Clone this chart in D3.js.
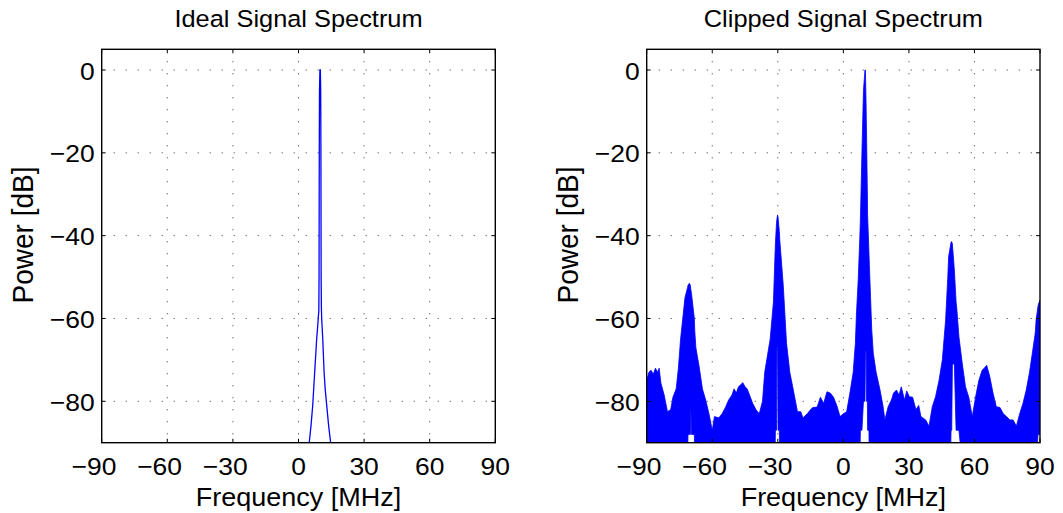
<!DOCTYPE html>
<html><head><meta charset="utf-8">
<script src="https://cdn.jsdelivr.net/npm/d3@7"></script>
<style>
body{margin:0;background:#fff}
svg{display:block}
text{font-family:"Liberation Sans",Arial,Helvetica,sans-serif;fill:#000}
</style>
</head><body>
<svg id="c" width="1063" height="513"></svg>
<script>
// ---------------- data ----------------
const xTicks = [-90, -60, -30, 0, 30, 60, 90];
const yTicks = [-80, -60, -40, -20, 0];
const titles = ["Ideal Signal Spectrum", "Clipped Signal Spectrum"];
const xLabel = "Frequency [MHz]";
const yLabel = "Power [dB]";

// Ideal spectrum (single narrow line at 10 MHz)
const idealFreq  = [4.9, 5.7, 6.5, 7.4, 8.3, 8.9, 9.3, 9.4, 9.45, 9.5, 9.6, 9.8, 10.0, 10.15, 10.25, 10.3, 10.35, 10.45, 10.6, 11.1, 11.7, 12.2, 12.9, 13.8, 14.7];
const idealPower = [-90, -86, -81, -73, -65, -61, -58, -50, -35, -20, -5, 0, 0, -5, -20, -35, -50, -57, -60, -65, -73, -77, -81, -86, -90];

// Clipped spectrum: upper and lower envelope of the dense trace
const clipFreq = [-90, -89, -88, -87, -86, -85, -84.3, -83.5, -82, -80.5, -79, -78, -76.5, -75.5, -74.5, -73.5, -72.5, -71.3, -71.1, -70.5, -70, -69.8, -69.5, -68.2, -68.0, -67.5, -66, -64.5, -63, -61.5, -60, -59, -57, -55.5, -54, -52.5, -51, -50, -49, -48, -47, -46, -45, -44, -41.5, -40, -38.5, -37, -36, -33.5, -32, -31.3, -31.1, -30.6, -30.4, -30.1, -29.9, -29.3, -29.1, -27.5, -26, -24.5, -23, -21, -19.5, -18.5, -16.5, -15, -14, -12, -10.5, -9, -7.5, -6, -4.5, -3, -1.5, 0, 1.5, 3, 4.5, 5.5, 6, 6.8, 7.5, 7.8, 8.5, 9.2, 9.9, 10.1, 10.4, 10.6, 11.0, 11.1, 11.7, 11.9, 13, 13.7, 15, 16.8, 18.2, 19, 20.5, 22, 23, 24.3, 25.5, 26.5, 28, 29, 30.2, 31.7, 33.2, 34.5, 35.5, 37.7, 39.2, 40.7, 42.2, 43.8, 45.3, 46.8, 47.8, 48.2, 49, 49.3, 49.6, 49.9, 50.8, 51.6, 51.9, 52.9, 54.4, 55.9, 57.4, 59, 60.5, 62, 63.5, 64.5, 65.6, 67, 68.5, 70, 71.7, 73.2, 74.7, 76.2, 77.7, 79.2, 80.7, 82.2, 83.7, 85.2, 86.7, 87.7, 87.9, 88.2, 89.1, 89.3, 90];
const clipUpper = [-75, -73, -72.5, -73.5, -72, -73, -72, -75.6, -78.5, -82.5, -82, -79, -77, -72, -65, -60, -55, -52.5, -52, -51.5, -52, -53, -54, -60, -63, -67, -71.6, -77, -79.7, -83, -87, -83.7, -84, -83, -81.5, -79.7, -78.5, -77, -78, -76.5, -76, -75.5, -76.5, -77, -80.5, -82, -83, -80, -73, -65, -56, -45, -42, -37, -36, -35, -35.5, -39, -41, -52, -66, -73, -77, -82.5, -82.5, -84, -83, -82, -81.5, -81.4, -79, -80.5, -77.7, -78, -79, -81, -83.7, -83, -82.5, -78, -73, -66, -58.8, -50.7, -41, -36, -20, -5, 0, 0, -8, -15, -30, -35, -44, -47, -62.8, -68.4, -73, -77.3, -81.3, -84.5, -81.3, -79.7, -78, -77.3, -78.5, -76.5, -79.7, -77.5, -78.9, -79, -82, -81, -83.7, -84.5, -86, -81.3, -78.9, -74.9, -70, -60.4, -50, -45, -42.5, -41.5, -41.5, -42, -48.3, -56, -57.5, -64.4, -70.8, -76.5, -79, -83.7, -79, -75, -72.5, -72, -71.3, -74, -78, -81.3, -81.5, -83, -83.7, -84.5, -84.5, -86, -83, -80.5, -77.3, -73, -67.6, -64, -63, -60.4, -57, -56.5, -55.6];
const clipLower = [-95, -95, -95, -95, -95, -95, -95, -95, -95, -95, -95, -95, -95, -95, -95, -95, -95, -95, -88, -88, -88, -81, -88, -88, -95, -95, -95, -95, -95, -95, -95, -95, -95, -95, -95, -95, -95, -95, -95, -95, -95, -95, -95, -95, -95, -95, -95, -95, -95, -95, -95, -95, -87, -87, -67, -67, -87, -87, -95, -95, -95, -95, -95, -95, -95, -95, -95, -95, -95, -95, -95, -95, -95, -95, -95, -95, -95, -95, -95, -95, -95, -95, -95, -95, -95, -87, -87, -80, -80, -68, -68, -80, -80, -87, -87, -95, -95, -95, -95, -95, -95, -95, -95, -95, -95, -95, -95, -95, -95, -95, -95, -95, -95, -95, -95, -95, -95, -95, -95, -95, -95, -95, -95, -95, -95, -87, -87, -71, -71, -87, -87, -87, -95, -95, -95, -95, -95, -95, -95, -95, -95, -95, -95, -95, -95, -95, -95, -95, -95, -95, -95, -95, -95, -95, -95, -95, -95, -95, -88, -88, -88, -95, -95];

// ---------------- layout ----------------
const panels = [{x0: 101.7, x1: 495.3}, {x0: 646.7, x1: 1040}];
const yTop = 49.3, yBot = 442.7;
const yDomain = [-90, 5];
const SX = 1.08; // horizontal stretch of the reference text
const BLUE = "#0000ff";
const FS = 24.5;

const svg = d3.select("#c");

function txt(g, x, y, s, size, anchor) {
  return g.append("text")
    .attr("transform", `translate(${x},${y}) scale(${SX},1)`)
    .attr("font-size", size)
    .attr("text-anchor", anchor)
    .text(s);
}
function fmt(v) { return v < 0 ? "\u2212" + Math.abs(v) : String(v); }

const tmp = svg.append("text").attr("font-size", FS).text("\u2212");
const minusW = tmp.node().getComputedTextLength() * SX;
tmp.remove();

panels.forEach((p, i) => {
  const x = d3.scaleLinear().domain([-90, 90]).range([p.x0, p.x1]);
  const y = d3.scaleLinear().domain(yDomain).range([yBot, yTop]);
  const g = svg.append("g");
  const cid = "clip" + i;
  svg.append("clipPath").attr("id", cid).append("rect")
    .attr("x", p.x0).attr("y", yTop).attr("width", p.x1 - p.x0).attr("height", yBot - yTop);

  // grid (dotted)
  const grid = g.append("g").attr("stroke", "#333").attr("stroke-width", 1)
    .attr("stroke-dasharray", "1,11").attr("fill", "none");
  xTicks.forEach(t => {
    if (t === -90 || t === 90) return;
    grid.append("line").attr("x1", x(t)).attr("x2", x(t)).attr("y1", yTop).attr("y2", yBot);
  });
  yTicks.forEach(t => {
    grid.append("line").attr("x1", p.x0).attr("x2", p.x1).attr("y1", y(t)).attr("y2", y(t));
  });

  // data
  const dg = g.append("g").attr("clip-path", `url(#${cid})`);
  if (i === 0) {
    const line = d3.line().x(d => x(d[0])).y(d => y(d[1]));
    dg.append("path").datum(d3.zip(idealFreq, idealPower))
      .attr("d", line).attr("fill", "none").attr("stroke", BLUE).attr("stroke-width", 1.3);
  } else {
    const area = d3.area().x(d => x(d[0])).y0(d => y(d[2])).y1(d => y(d[1]));
    dg.append("path").datum(d3.zip(clipFreq, clipUpper, clipLower))
      .attr("d", area).attr("fill", BLUE).attr("stroke", BLUE).attr("stroke-width", 0.8);
  }

  // ticks (inside, all four sides)
  const tk = g.append("g").attr("stroke", "#000").attr("stroke-width", 1);
  const L = 4;
  xTicks.forEach(t => {
    tk.append("line").attr("x1", x(t)).attr("x2", x(t)).attr("y1", yBot).attr("y2", yBot - L);
    tk.append("line").attr("x1", x(t)).attr("x2", x(t)).attr("y1", yTop).attr("y2", yTop + L);
  });
  yTicks.forEach(t => {
    tk.append("line").attr("x1", p.x0).attr("x2", p.x0 + L).attr("y1", y(t)).attr("y2", y(t));
    tk.append("line").attr("x1", p.x1).attr("x2", p.x1 - L).attr("y1", y(t)).attr("y2", y(t));
  });

  // box
  g.append("rect").attr("x", p.x0).attr("y", yTop).attr("width", p.x1 - p.x0).attr("height", yBot - yTop)
    .attr("fill", "none").attr("stroke", "#000").attr("stroke-width", 1.4);

  // tick labels
  xTicks.forEach(t => {
    const off = t < 0 ? -minusW / 2 : 0;
    txt(g, x(t) + off, 475, fmt(t), FS, "middle");
  });
  yTicks.forEach(t => {
    txt(g, p.x0 - 7, y(t) + 9.5, fmt(t), FS, "end");
  });

  // title, labels
  const cx = (p.x0 + p.x1) / 2;
  txt(g, cx, 27, titles[i], 23.5, "middle");
  txt(g, cx, 506, xLabel, 25, "middle");
  g.append("text")
    .attr("transform", `translate(${p.x0 - 68.7},235) rotate(-90) scale(1,${SX})`)
    .attr("font-size", 28)
    .attr("text-anchor", "middle")
    .text(yLabel);
});
</script>
</body></html>
